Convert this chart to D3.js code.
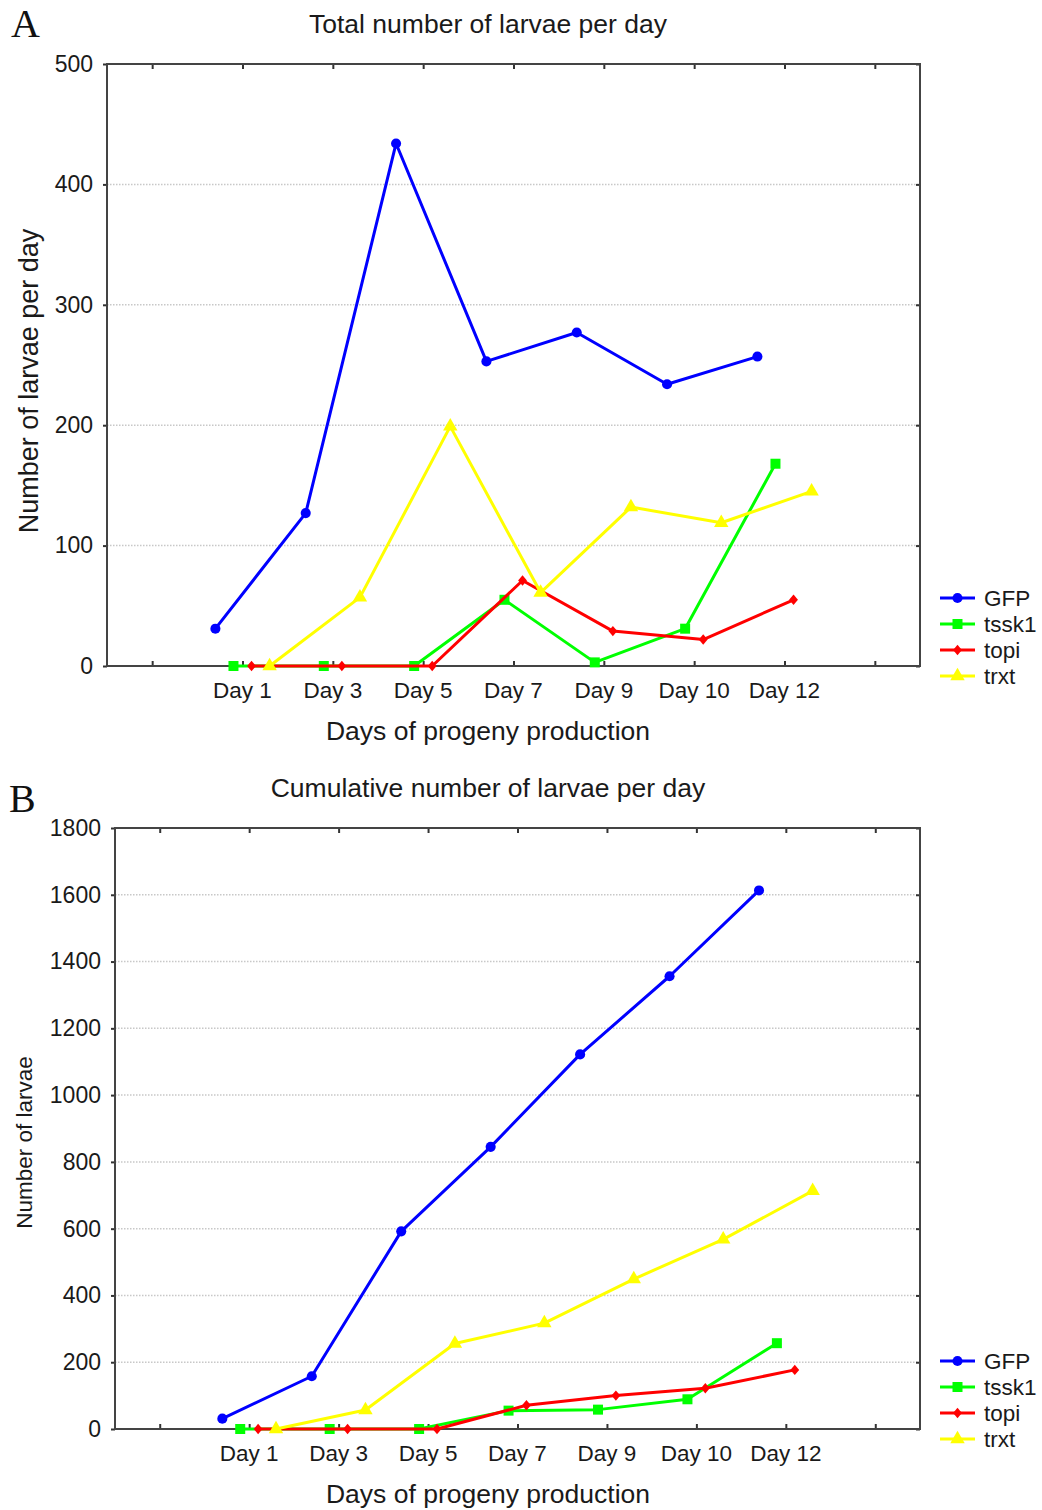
<!DOCTYPE html>
<html>
<head>
<meta charset="utf-8">
<script src="https://cdn.jsdelivr.net/npm/d3@7"></script>
<style>
  html, body { margin: 0; padding: 0; background: #fff; }
  svg { display: block; }
  text { font-family: "Liberation Sans", Arial, sans-serif; fill: #1a1a1a; }
</style>
</head>
<body>
<svg id="chart" width="1042" height="1510"></svg>
<script>
// Category slots along the x axis (first and last slot carry no label)
const categories = ["", "Day 1", "Day 3", "Day 5", "Day 7", "Day 9", "Day 10", "Day 12", ""];
const days = ["Day 1", "Day 3", "Day 5", "Day 7", "Day 9", "Day 10", "Day 12"];
const seriesNames = ["GFP", "tssk1", "topi", "trxt"];

// Panel A: larvae counted each day
const dailyGFP   = [31, 127, 434, 253, 277, 234, 257];
const dailyTssk1 = [0, 0, 0, 55, 3, 31, 168];
const dailyTopi  = [0, 0, 0, 71, 29, 22, 55];
const dailyTrxt  = [0, 57, 199, 61, 132, 119, 145];

// Panel B: running totals of larvae
const cumGFP   = [31, 158, 592, 845, 1122, 1356, 1613];
const cumTssk1 = [0, 0, 0, 55, 58, 89, 257];
const cumTopi  = [0, 0, 0, 71, 100, 122, 177];
const cumTrxt  = [0, 57, 256, 317, 449, 568, 713];

// Tick values
const ticksA = [0, 100, 200, 300, 400, 500];
const ticksB = [0, 200, 400, 600, 800, 1000, 1200, 1400, 1600, 1800];

const colors = { GFP: "#0000ff", tssk1: "#00ff00", topi: "#ff0000", trxt: "#ffff00" };
// Each series is nudged sideways within its day slot
const offsets = { GFP: -0.3, tssk1: -0.1, topi: 0.1, trxt: 0.3 };

// Small diamond marker used for topi
const narrowDiamond = {
  draw(ctx, size) {
    const h = Math.sqrt(size) * 0.62, w = h * 0.85;
    ctx.moveTo(0, -h); ctx.lineTo(w, 0); ctx.lineTo(0, h); ctx.lineTo(-w, 0); ctx.closePath();
  }
};
const symbols = {
  GFP:   d3.symbol(d3.symbolCircle, 80),
  tssk1: d3.symbol(d3.symbolSquare, 100),
  topi:  d3.symbol(narrowDiamond, 70),
  trxt:  d3.symbol(d3.symbolTriangle, 90)
};

const svg = d3.select("#chart");
const centerX = 488;

function drawPanel(cfg) {
  const g = svg.append("g");
  const { left, right, top, bottom } = cfg.box;

  const x = d3.scaleLinear().domain([-0.5, categories.length - 0.5]).range([left, right]);
  const y = d3.scaleLinear().domain([0, cfg.max]).range([bottom, top]);

  // panel letter
  g.append("text").attr("x", cfg.letterPos[0]).attr("y", cfg.letterPos[1])
    .style("font-family", "'Liberation Serif', 'Times New Roman', serif")
    .style("font-size", "40px").style("fill", "#111").text(cfg.letter);

  // title
  g.append("text").attr("x", centerX).attr("y", cfg.titleY)
    .attr("text-anchor", "middle").style("font-size", "26.5px").text(cfg.title);

  // dotted horizontal grid
  g.append("g").selectAll("line").data(cfg.ticks.filter(t => t > 0 && t < cfg.max)).join("line")
    .attr("x1", left).attr("x2", right).attr("y1", d => y(d)).attr("y2", d => y(d))
    .attr("stroke", "#c8c8c8").attr("stroke-width", 1.5).attr("stroke-dasharray", "1.5,1.5");

  // y axis labels and ticks (left, outward) + inward ticks on right
  const yAxis = d3.axisLeft(y).tickValues(cfg.ticks).tickSize(4).tickPadding(10).tickFormat(d3.format("d"));
  const ya = g.append("g").attr("transform", `translate(${left},0)`).call(yAxis);
  ya.select(".domain").remove();
  ya.selectAll("line").attr("stroke", "#333").attr("stroke-width", 2);
  ya.selectAll("text").style("font-size", "23px").style("font-family", "'Liberation Sans', Arial, sans-serif").attr("fill", "#1a1a1a");
  const yr = g.append("g").attr("transform", `translate(${right},0)`).call(d3.axisLeft(y).tickValues(cfg.ticks).tickSize(4).tickFormat(""));
  yr.select(".domain").remove();
  yr.selectAll("line").attr("stroke", "#333").attr("stroke-width", 2);

  // x axis: inward ticks on bottom and top
  const ticksIdx = d3.range(categories.length);
  const xb = g.append("g").attr("transform", `translate(0,${bottom})`)
    .call(d3.axisTop(x).tickValues(ticksIdx).tickSize(5).tickFormat(""));
  xb.select(".domain").remove();
  xb.selectAll("line").attr("stroke", "#333").attr("stroke-width", 2);
  const xt = g.append("g").attr("transform", `translate(0,${top})`)
    .call(d3.axisBottom(x).tickValues(ticksIdx).tickSize(5).tickFormat(""));
  xt.select(".domain").remove();
  xt.selectAll("line").attr("stroke", "#333").attr("stroke-width", 2);

  // x tick labels
  g.append("g").selectAll("text").data(categories).join("text")
    .attr("x", (d, i) => x(i)).attr("y", bottom + 32)
    .attr("text-anchor", "middle").style("font-size", "22.5px").text(d => d);

  // frame
  g.append("rect").attr("x", left).attr("y", top).attr("width", right - left).attr("height", bottom - top)
    .attr("fill", "none").attr("stroke", "#444").attr("stroke-width", 2);

  // axis titles
  g.append("text").attr("x", centerX).attr("y", bottom + 74)
    .attr("text-anchor", "middle").style("font-size", "26.5px").text("Days of progeny production");
  g.append("text")
    .attr("transform", `translate(${cfg.yTitleX},${(top + bottom) / 2 + cfg.yTitleShift}) rotate(-90)`)
    .attr("text-anchor", "middle").style("font-size", cfg.yTitleSize).text(cfg.yTitle);

  // series lines and markers
  const line = d3.line().x(d => d[0]).y(d => d[1]);
  seriesNames.forEach(name => {
    const vals = cfg.data[name];
    const pts = vals.map((v, i) => [x(categories.indexOf(days[i]) + offsets[name]), y(v)]);
    g.append("path").attr("d", line(pts)).attr("fill", "none")
      .attr("stroke", colors[name]).attr("stroke-width", 3).attr("stroke-linejoin", "round");
    g.append("g").selectAll("path").data(pts).join("path")
      .attr("transform", d => `translate(${d[0]},${d[1]})`)
      .attr("d", symbols[name]()).attr("fill", colors[name]);
  });

  // legend
  const lg = g.append("g").attr("transform", `translate(${cfg.legend[0]},${cfg.legend[1]})`);
  seriesNames.forEach((name, i) => {
    const row = lg.append("g").attr("transform", `translate(0,${i * 26})`);
    row.append("line").attr("x1", 0).attr("x2", 35).attr("y1", 0).attr("y2", 0)
      .attr("stroke", colors[name]).attr("stroke-width", 3);
    row.append("path").attr("transform", "translate(17.5,0)").attr("d", symbols[name]()).attr("fill", colors[name]);
    row.append("text").attr("x", 44).attr("y", 8).style("font-size", "22.5px").text(name);
  });
}

drawPanel({
  letter: "A", letterPos: [11, 37],
  title: "Total number of larvae per day", titleY: 33,
  box: { left: 107, right: 920, top: 64, bottom: 666 },
  max: 500, ticks: ticksA,
  yTitle: "Number of larvae per day", yTitleX: 38, yTitleShift: 16, yTitleSize: "27px",
  data: { GFP: dailyGFP, tssk1: dailyTssk1, topi: dailyTopi, trxt: dailyTrxt },
  legend: [940, 598]
});

drawPanel({
  letter: "B", letterPos: [9, 812],
  title: "Cumulative number of larvae per day", titleY: 797,
  box: { left: 115, right: 920, top: 828, bottom: 1429 },
  max: 1800, ticks: ticksB,
  yTitle: "Number of larvae", yTitleX: 32, yTitleShift: 14, yTitleSize: "22.5px",
  data: { GFP: cumGFP, tssk1: cumTssk1, topi: cumTopi, trxt: cumTrxt },
  legend: [940, 1361]
});
</script>
</body>
</html>
